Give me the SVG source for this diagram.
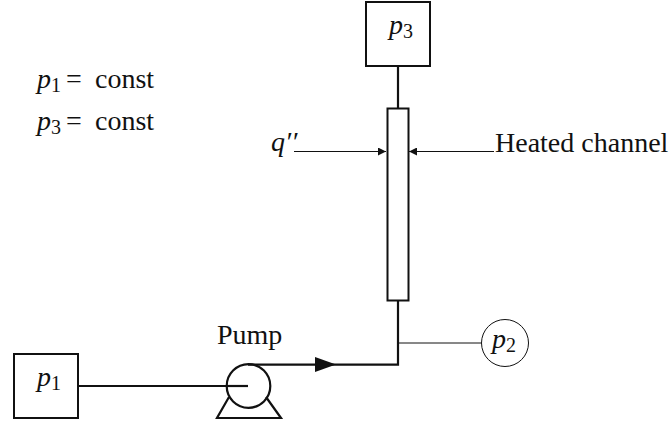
<svg xmlns="http://www.w3.org/2000/svg" width="670" height="425" viewBox="0 0 670 425">
<defs>
<style>
text{font-family:"Liberation Serif",serif;font-size:28px;fill:#111}
.m{font-style:italic}
.s{font-size:20px}
.box{fill:#fff;stroke:#111;stroke-width:2}
.pipe{fill:none;stroke:#111;stroke-width:2.2}
.thin{fill:none;stroke:#111;stroke-width:1}
.mid{fill:none;stroke:#111;stroke-width:1.2}
</style>
<marker id="a" markerUnits="userSpaceOnUse" markerWidth="9" markerHeight="8" refX="8" refY="4" orient="auto"><path d="M0 0L8 4L0 8Z" fill="#111"/></marker>
</defs>
<g id="connectors">
<path class="pipe" d="M78 386H248"/>
<path class="pipe" d="M248 364.6H398V300"/>
<path class="pipe" d="M398 66V108"/>
<path class="thin" d="M398 343H481"/>
<path class="mid" d="M294 151.500H386" marker-end="url(#a)"/>
<path class="mid" d="M494 151.500H409" marker-end="url(#a)"/>
<path d="M315 357L336 364.600L315 372Z" fill="#111"/>
</g>
<g id="p3"><rect class="box" x="366" y="2" width="64" height="64"/><text x="389" y="34"><tspan class="m">p</tspan><tspan class="s" dy="4">3</tspan></text></g>
<g id="channel"><rect class="box" x="387.500" y="108.500" width="21" height="192"/></g>
<g id="p1"><rect class="box" x="14" y="354" width="64" height="64"/><text x="37" y="386"><tspan class="m">p</tspan><tspan class="s" dy="4">1</tspan></text></g>
<g id="pump"><path class="pipe" d="M229 397L217 418H281L266 397"/><circle cx="248.500" cy="386" r="21.800" fill="none" stroke="#111" stroke-width="2.200"/><path class="pipe" d="M226 386H248"/></g>
<g id="p2"><circle class="thin" cx="505" cy="343" r="23.500"/><text x="492" y="348"><tspan class="m">p</tspan><tspan class="s" dy="4">2</tspan></text></g>
<g id="labels">
<text x="217" y="344">Pump</text>
<text x="495" y="152">Heated channel</text>
<text class="m" x="271" y="151">q′′</text>
<text x="37" y="88"><tspan class="m">p</tspan><tspan class="s" dy="4">1</tspan></text><text x="66" y="88">=</text><text x="95" y="88">const</text>
<text x="37" y="130"><tspan class="m">p</tspan><tspan class="s" dy="4">3</tspan></text><text x="66" y="130">=</text><text x="95" y="130">const</text>
</g>
</svg>
